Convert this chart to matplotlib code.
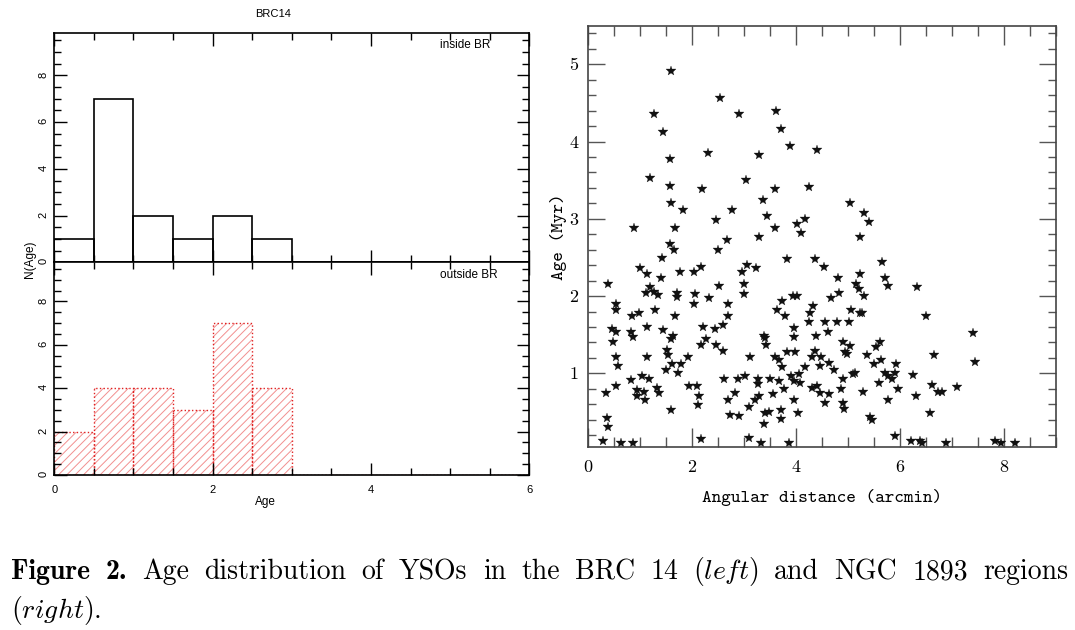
import matplotlib
matplotlib.use('Agg')
import matplotlib.pyplot as plt
from matplotlib.ticker import MultipleLocator

# left panels: age histograms of BRC 14 (bins of 0.5 Myr)
bin_left = [0.0, 0.5, 1.0, 1.5, 2.0, 2.5, 3.0, 3.5, 4.0, 4.5, 5.0, 5.5]
inside_counts = [1, 7, 2, 1, 2, 1, 0, 0, 0, 0, 0, 0]
outside_counts = [2, 4, 4, 3, 7, 4, 0, 0, 0, 0, 0, 0]

# right panel: NGC 1893 YSOs, angular distance (arcmin) vs age (Myr)
ang_dist = [
    1.59, 2.53, 1.26, 2.91, 3.62, 1.44, 3.72, 3.88, 1.58, 2.31, 3.29, 1.19,
    3.03, 1.57, 2.19, 3.60, 4.25, 1.60, 1.83, 3.37, 2.76, 3.45, 2.46, 0.89,
    1.68, 4.01, 4.17, 3.60, 4.09, 3.29, 1.58, 1.65, 2.67, 2.50,
    4.40, 5.03, 5.31, 5.40, 5.24,
    1.43, 3.82, 1.00, 2.17, 3.06, 3.24, 1.14, 1.77, 2.04, 2.96, 1.40, 0.38,
    3.00, 2.51, 1.19, 1.12, 1.26, 1.35, 1.71, 1.72, 2.06, 3.00, 2.33, 2.03,
    0.53, 0.54, 2.69, 3.74, 3.94, 4.01, 1.28, 3.63, 0.99, 0.85, 1.67, 2.69,
    3.78, 0.47, 0.54, 1.13, 1.44, 2.21, 2.45, 2.59, 0.82, 0.87, 1.63, 1.60,
    0.49, 2.26, 2.18, 2.46, 2.59, 3.38, 3.41, 3.42, 3.96, 3.97, 1.51, 1.53,
    3.82, 3.99, 0.54, 1.13, 1.92, 3.12, 3.60, 3.68, 0.58, 1.62, 1.79, 1.50,
    1.73, 3.74, 4.17, 0.83, 1.04, 1.18, 2.62, 2.88, 3.01, 3.26, 3.26, 3.50,
    3.68, 3.90, 3.96, 4.06, 4.08, 0.34, 0.54, 0.94, 0.95, 1.08, 1.10, 1.32,
    1.36, 1.95, 2.09, 2.13, 2.12, 2.83, 2.69, 3.29, 3.21, 3.10, 3.55, 3.76,
    3.96, 1.59, 2.74, 2.90, 3.40, 3.49, 3.72, 3.72, 4.03, 3.38, 0.36, 0.38,
    0.29, 0.63, 0.87, 2.18, 3.09, 3.32, 3.87,
    4.37, 4.54, 5.65, 4.81, 5.23, 5.15, 5.22, 5.31, 4.67, 4.82, 5.71, 5.76,
    6.33, 4.32, 4.26, 4.25, 4.55, 4.78, 5.01, 5.05, 5.23, 5.27, 6.50, 4.38,
    4.61, 4.90, 5.04, 4.94, 4.99, 4.37, 4.30, 4.49, 4.46, 4.64, 4.74, 5.54,
    5.62, 5.36, 5.64, 5.50, 5.93, 7.40, 7.44, 6.65, 5.71, 5.76, 5.84, 5.90,
    5.09, 5.14, 4.90, 4.86, 4.31, 4.41, 4.47, 4.63, 4.55, 4.90, 4.92, 5.28,
    5.60, 5.96, 5.76, 6.25, 6.30, 6.62, 6.73, 6.80, 7.09, 6.58, 5.42, 5.47,
    5.90, 6.21, 6.39, 6.42, 6.89, 7.83, 7.95, 8.22,
]
age_myr = [
    4.92, 4.56, 4.36, 4.36, 4.40, 4.12, 4.16, 3.94, 3.77, 3.85, 3.82, 3.53,
    3.50, 3.42, 3.39, 3.39, 3.41, 3.20, 3.11, 3.24, 3.12, 3.04, 2.99, 2.88,
    2.88, 2.93, 3.00, 2.88, 2.81, 2.76, 2.68, 2.60, 2.72, 2.60,
    3.89, 3.20, 3.08, 2.96, 2.76,
    2.49, 2.48, 2.36, 2.37, 2.40, 2.36, 2.28, 2.31, 2.31, 2.31, 2.24, 2.16,
    2.16, 2.13, 2.12, 2.04, 2.05, 2.01, 2.04, 1.99, 2.03, 2.03, 1.98, 1.90,
    1.90, 1.82, 1.90, 1.94, 2.00, 2.00, 1.82, 1.82, 1.78, 1.74, 1.74, 1.74,
    1.74, 1.57, 1.53, 1.60, 1.56, 1.60, 1.57, 1.62, 1.53, 1.47, 1.48, 1.44,
    1.40, 1.44, 1.37, 1.37, 1.29, 1.48, 1.46, 1.37, 1.47, 1.59, 1.30, 1.24,
    1.28, 1.28, 1.21, 1.21, 1.21, 1.21, 1.21, 1.17, 1.09, 1.12, 1.12, 1.04,
    1.00, 1.08, 1.08, 0.91, 0.96, 0.92, 0.92, 0.92, 0.96, 0.92, 0.86, 0.92,
    0.90, 0.96, 0.90, 0.99, 0.88, 0.74, 0.83, 0.79, 0.71, 0.76, 0.65, 0.81,
    0.74, 0.83, 0.83, 0.70, 0.59, 0.75, 0.66, 0.71, 0.65, 0.57, 0.73, 0.80,
    0.65, 0.52, 0.46, 0.45, 0.48, 0.50, 0.52, 0.41, 0.49, 0.34, 0.42, 0.30,
    0.13, 0.10, 0.10, 0.15, 0.16, 0.10, 0.10,
    2.48, 2.37, 2.44, 2.24, 2.28, 2.16, 2.09, 2.00, 1.98, 2.04, 2.24, 2.13,
    2.12, 1.87, 1.78, 1.67, 1.67, 1.67, 1.67, 1.82, 1.78, 1.78, 1.74, 1.48,
    1.53, 1.41, 1.35, 1.28, 1.25, 1.29, 1.21, 1.21, 1.09, 1.13, 1.04, 1.34,
    1.40, 1.24, 1.17, 1.12, 1.12, 1.52, 1.15, 1.24, 1.01, 0.96, 0.92, 1.00,
    0.99, 1.01, 0.92, 0.80, 0.81, 0.84, 0.74, 0.73, 0.62, 0.61, 0.54, 0.76,
    0.88, 0.80, 0.66, 0.98, 0.71, 0.85, 0.76, 0.76, 0.82, 0.49, 0.44, 0.39,
    0.19, 0.13, 0.13, 0.10, 0.10, 0.13, 0.10, 0.10,
]

plt.rcParams['mathtext.fontset'] = 'cm'
plt.rcParams['font.family'] = ['Liberation Sans', 'DejaVu Sans']
plt.rcParams['hatch.linewidth'] = 0.7

W, H = 1075, 630
fig = plt.figure(figsize=(W / 100, H / 100), dpi=100)


def box(x0, y0, x1, y1):
    # pixel box (top-left origin) -> figure fraction rect
    return [x0 / W, 1 - y1 / H, (x1 - x0) / W, (y1 - y0) / H]


ax_in = fig.add_axes(box(54.3, 33.3, 529.3, 262.3))
ax_out = fig.add_axes(box(54.3, 262.3, 529.3, 475))
ax_r = fig.add_axes(box(588, 25.7, 1056, 446.7))

# ---- left: histograms
ax_in.bar(bin_left, inside_counts, width=0.5, align='edge', fill=False,
          edgecolor='black', linewidth=1.2)
ax_out.bar(bin_left, outside_counts, width=0.5, align='edge', fill=False,
           hatch='////', edgecolor='#f29090', linewidth=0)
ax_out.bar(bin_left, outside_counts, width=0.5, align='edge', fill=False,
           edgecolor='#e02020', linewidth=1.0, linestyle=':')

for ax in (ax_in, ax_out):
    ax.set_xlim(0, 6)
    ax.set_ylim(0, 9.8)
    ax.xaxis.set_major_locator(MultipleLocator(2))
    ax.xaxis.set_minor_locator(MultipleLocator(0.5))
    ax.yaxis.set_major_locator(MultipleLocator(2))
    ax.yaxis.set_minor_locator(MultipleLocator(0.5))
    ax.tick_params(which='both', direction='in', top=True, right=True,
                   width=1.0, labelsize=8)
    ax.tick_params(which='major', length=9)
    ax.tick_params(which='minor', length=5)
    ax.tick_params(axis='y', labelrotation=90, pad=4)
    ax.tick_params(axis='x', pad=7)
    for sp in ax.spines.values():
        sp.set_linewidth(1.2)
ax_in.tick_params(labelbottom=False)

fig.text(273 / W, 1 - 14 / H, 'BRC14', ha='center', va='center', fontsize=8)
fig.text(440 / W, 1 - 45 / H, 'inside BR', ha='left', va='center',
         fontsize=8.5)
fig.text(440 / W, 1 - 275 / H, 'outside BR', ha='left', va='center',
         fontsize=8.5)
fig.text(30 / W, 1 - 259 / H, 'N(Age)', rotation=90, ha='center',
         va='center', fontsize=8.5)
fig.text(265 / W, 1 - 502 / H, 'Age', ha='center', va='center', fontsize=8.5)

# ---- right: scatter
ax_r.plot(ang_dist, age_myr, linestyle='none', marker='*', markersize=7,
          color='#111111', markeredgewidth=0.2, clip_on=False)
ax_r.set_xlim(0, 9)
ax_r.set_ylim(0.05, 5.5)
ax_r.set_xticks([0, 2, 4, 6, 8], labels=['0', '2', '4', '6', '8'],
                fontfamily='cmr10', fontsize=13)
ax_r.set_yticks([1, 2, 3, 4, 5], labels=['1', '2', '3', '4', '5'],
                fontfamily='cmr10', fontsize=13)
ax_r.xaxis.set_minor_locator(MultipleLocator(0.5))
ax_r.yaxis.set_minor_locator(MultipleLocator(0.2))
ax_r.tick_params(which='both', direction='in', top=True, right=True,
                 width=1.0, color='#555555')
ax_r.tick_params(axis='x', which='major', length=14, pad=9.5)
ax_r.tick_params(axis='x', which='minor', length=7)
ax_r.tick_params(axis='y', which='major', length=12, pad=7)
ax_r.tick_params(axis='y', which='minor', length=6)
for sp in ax_r.spines.values():
    sp.set_linewidth(1.2)
    sp.set_color('#444444')
ax_r.text(0.5, -0.1195, 'Angular distance (arcmin)', transform=ax_r.transAxes,
          ha='center', va='center', fontfamily='cmtt10', fontsize=13.2)
ax_r.text(-0.064, 0.5, 'Age (Myr)', transform=ax_r.transAxes, rotation=90,
          ha='center', va='center', fontfamily='cmtt10', fontsize=13.2)

# ---- caption, first line justified between x0 and x1
cap_size = 20
line1 = [('Figure', 'cmb10'), ('2.', 'cmb10'), ('Age', 'cmr10'),
         ('distribution', 'cmr10'), ('of', 'cmr10'), ('YSOs', 'cmr10'),
         ('in', 'cmr10'), ('the', 'cmr10'), ('BRC', 'cmr10'), ('14', 'cmr10'),
         (r'($\mathit{left}$)', 'cmr10'), ('and', 'cmr10'), ('NGC', 'cmr10'),
         ('1893', 'cmr10'), ('regions', 'cmr10')]
x0, x1 = 11, 1068
words = [fig.text(x0 / W, 1 - 579 / H, s, fontfamily=fam, fontsize=cap_size,
                  va='baseline', ha='left') for s, fam in line1]
renderer = fig.canvas.get_renderer()
widths = [t.get_window_extent(renderer).width for t in words]
gap = (x1 - x0 - sum(widths)) / (len(words) - 1)
x = x0
for t, w in zip(words, widths):
    t.set_x(x / W)
    x += w + gap
fig.text(x0 / W, 1 - 618 / H, r'($\mathit{right}$).', fontfamily='cmr10',
         fontsize=cap_size, va='baseline', ha='left')

fig.savefig('out.png', dpi=100)
